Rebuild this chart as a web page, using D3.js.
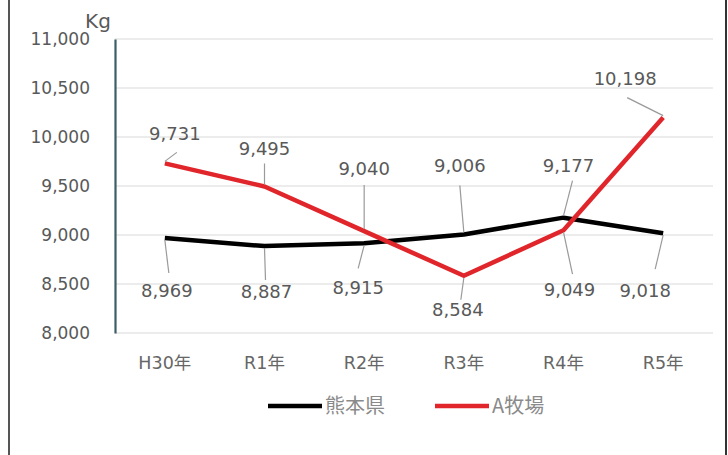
<!DOCTYPE html>
<html>
<head>
<meta charset="utf-8">
<script src="https://cdn.jsdelivr.net/npm/d3@7"></script>
<style>
  html, body { margin: 0; padding: 0; background: #fff; }
  svg { display: block; }
</style>
</head>
<body>
<svg id="chart" width="728" height="455"></svg>
<script>
// Annual milk yield per cow (kg)
const years = ["H30年", "R1年", "R2年", "R3年", "R4年", "R5年"];
const kumamoto = [8969, 8887, 8915, 9006, 9177, 9018];
const farmA = [9731, 9495, 9040, 8584, 9049, 10198];
const yTicks = [8000, 8500, 9000, 9500, 10000, 10500, 11000];
const seriesNames = ["熊本県", "A牧場"];

// Label placement: [dx, dy] of label centre/baseline from its point, and leader end offset
const kumamotoLabelPos = [
  { dx: 2, dy: 59, lx: 4, ly: 35 },
  { dx: 2, dy: 52, lx: 1, ly: 34 },
  { dx: -6, dy: 51, lx: -6, ly: 25 },
  { dx: -4, dy: -62, lx: -4, ly: -49 },
  { dx: 5, dy: -46, lx: 9, ly: -37 },
  { dx: -18, dy: 64, lx: -8, ly: 36 }
];
const farmALabelPos = [
  { dx: 10, dy: -23, lx: 12, ly: -11 },
  { dx: 0, dy: -31, lx: 0, ly: -23 },
  { dx: 0, dy: -56, lx: 0, ly: -46 },
  { dx: -6, dy: 40, lx: -3, ly: 24 },
  { dx: 6, dy: 66, lx: 9, ly: 44 },
  { dx: -38, dy: -33, lx: -36, ly: -20 }
];

const svg = d3.select("#chart");
const font = "'DejaVu Sans', 'Noto Sans CJK JP', sans-serif";
const textGray = "#595959";

// Outer frame sides
svg.append("line").attr("x1", 9).attr("x2", 9).attr("y1", 0).attr("y2", 455)
  .attr("stroke", "#555").attr("stroke-width", 2);
svg.append("line").attr("x1", 726).attr("x2", 726).attr("y1", 0).attr("y2", 455)
  .attr("stroke", "#333").attr("stroke-width", 2);

const x = d3.scaleBand().domain(years).range([115, 713]).padding(0);
const y = d3.scaleLinear().domain([8000, 11000]).range([333, 39]);
const cx = d => x(d) + x.bandwidth() / 2;

// Gridlines
svg.append("g").selectAll("line").data(yTicks).join("line")
  .attr("x1", 115).attr("x2", 713)
  .attr("y1", d => y(d)).attr("y2", d => y(d))
  .attr("stroke", "#d9d9d9").attr("stroke-width", 1.2);

// Y axis
const yAxis = svg.append("g").attr("transform", "translate(115,0)")
  .call(d3.axisLeft(y).tickValues(yTicks).tickSize(0).tickPadding(25)
    .tickFormat(d3.format(",")));
yAxis.select(".domain").attr("stroke", "#3d5f63").attr("stroke-width", 2.2);
yAxis.selectAll("text").attr("fill", textGray).style("font-family", font)
  .style("font-size", "17px");

// Unit label
svg.append("text").attr("x", 98).attr("y", 28).attr("text-anchor", "middle")
  .attr("fill", textGray).style("font-family", font).style("font-size", "20px")
  .text("Kg");

// X axis labels
const xAxis = svg.append("g").attr("transform", "translate(0,333)")
  .call(d3.axisBottom(x).tickSize(0).tickPadding(24));
xAxis.select(".domain").remove();
xAxis.selectAll("text").attr("fill", "#666").style("font-family", font)
  .style("font-size", "17.5px");

// Series lines
const line = d3.line().x((d, i) => cx(years[i])).y(d => y(d));
svg.append("path").datum(kumamoto).attr("d", line).attr("fill", "none")
  .attr("stroke", "#000").attr("stroke-width", 4.5).attr("stroke-linejoin", "round");
svg.append("path").datum(farmA).attr("d", line).attr("fill", "none")
  .attr("stroke", "#e0252b").attr("stroke-width", 4.5).attr("stroke-linejoin", "round");

// Data labels with leader lines
function drawLabels(values, pos) {
  const g = svg.append("g");
  values.forEach((v, i) => {
    const px = cx(years[i]), py = y(v);
    const p = pos[i];
    g.append("line").attr("x1", px).attr("y1", py + Math.sign(p.ly) * 2)
      .attr("x2", px + p.lx).attr("y2", py + p.ly)
      .attr("stroke", "#9a9a9a").attr("stroke-width", 1.2);
    g.append("text").attr("x", px + p.dx).attr("y", py + p.dy)
      .attr("text-anchor", "middle").attr("fill", textGray)
      .style("font-family", font).style("font-size", "18px")
      .text(d3.format(",")(v));
  });
}
drawLabels(kumamoto, kumamotoLabelPos);
drawLabels(farmA, farmALabelPos);

// Legend
const legendColors = ["#000", "#e0252b"];
const legendX = [268, 435];
const legend = svg.append("g");
seriesNames.forEach((name, i) => {
  legend.append("line").attr("x1", legendX[i]).attr("x2", legendX[i] + 54)
    .attr("y1", 406).attr("y2", 406)
    .attr("stroke", legendColors[i]).attr("stroke-width", 4.5);
  legend.append("text").attr("x", legendX[i] + 57).attr("y", 413)
    .attr("fill", "#8a8a8a").style("font-family", "'Noto Sans CJK JP', sans-serif")
    .style("font-size", "20px").text(name);
});
</script>
</body>
</html>
